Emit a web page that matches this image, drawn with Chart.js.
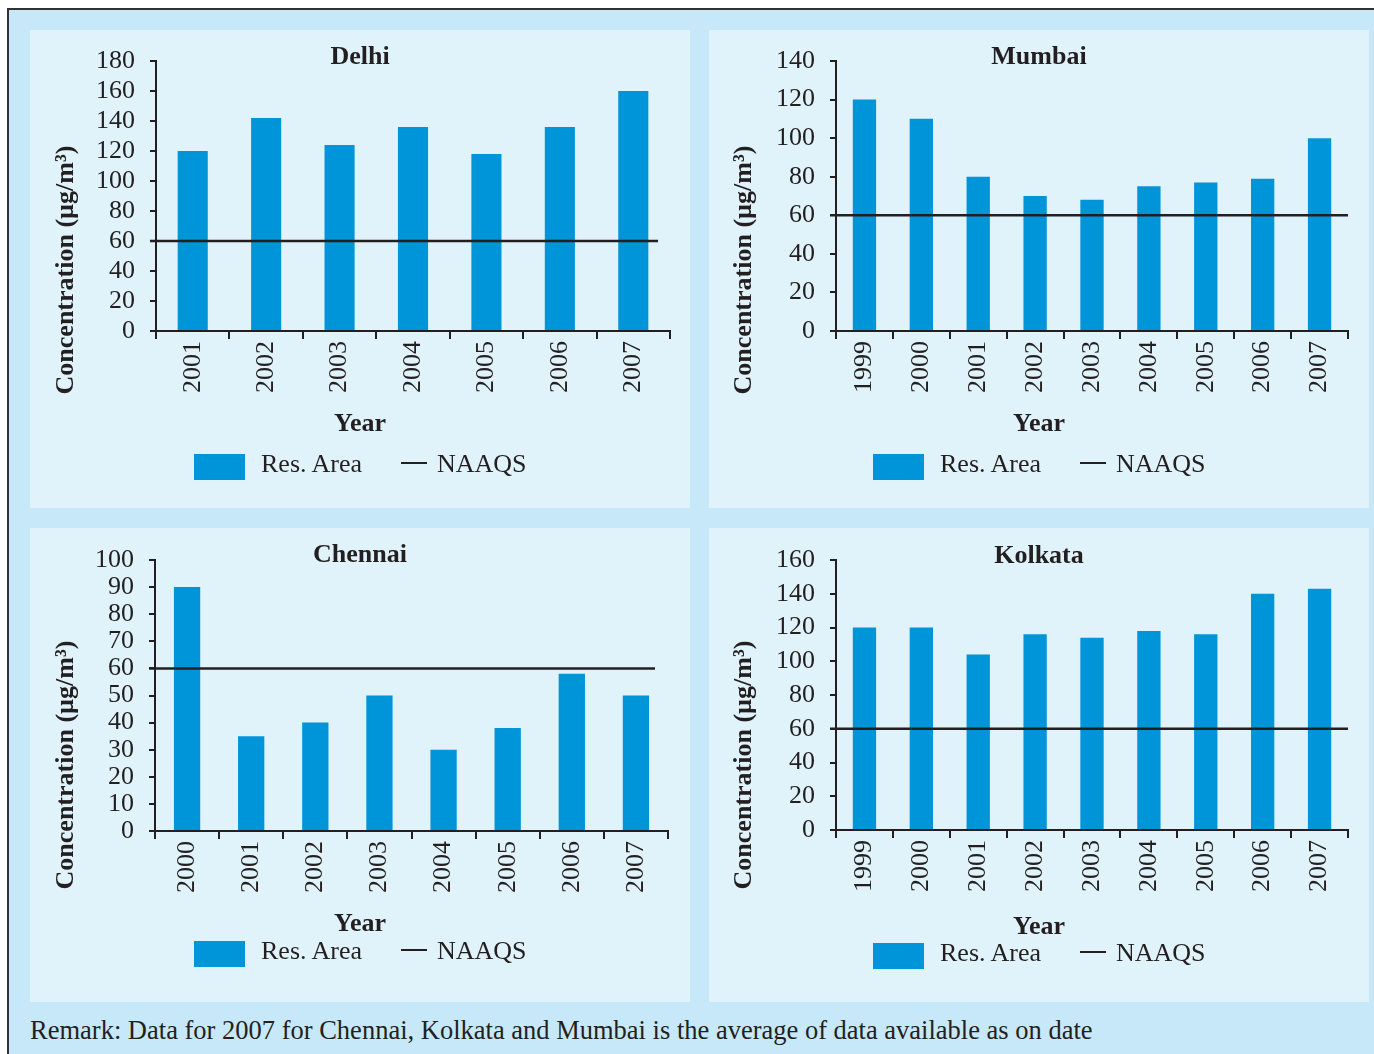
<!DOCTYPE html>
<html>
<head>
<meta charset="utf-8">
<script src="https://cdn.jsdelivr.net/npm/chart.js@4.4.1/dist/chart.umd.min.js"></script>
<style>
  body { margin: 0; background: #fff; font-family: "Liberation Serif", "Times New Roman", serif; color: #231f20; }
  #frame { position: absolute; left: 7px; top: 8px; width: 1380px; height: 1060px; background: #c7e8f8;
           border-top: 2px solid #333; border-left: 2px solid #333; }
  .panel { position: absolute; background: #e0f3fb; }
  .panel canvas { position: absolute; left: 0; top: 0; }
  .ptitle, .xtitle { position: absolute; left: 0; width: 100%; text-align: center; font-weight: bold; font-size: 26px; line-height: 26px; }
  .ytitle { position: absolute; width: 320px; text-align: center; font-weight: bold; font-size: 26px; line-height: 26px;
            white-space: nowrap; transform: translate(-50%, -50%) rotate(-90deg); }
  .legend { position: absolute; left: 0; height: 26px; font-size: 26px; line-height: 26px; white-space: nowrap; }
  .legend .box { position: absolute; left: 0; top: 0; width: 51px; height: 26px; background: #0095d9; }
  .legend .lab1 { position: absolute; left: 67px; top: -3px; }
  .legend .line { position: absolute; left: 207px; top: 8px; width: 26px; height: 2px; background: #231f20; }
  .legend .lab2 { position: absolute; left: 243px; top: -3px; }
  #remark { position: absolute; left: 30px; top: 1015px; font-size: 26.5px; line-height: 30px; white-space: nowrap; }
</style>
</head>
<body>
<div id="frame"></div>
<div id="charts"></div>
<div id="remark">Remark: Data for 2007 for Chennai, Kolkata and Mumbai is the average of data available as on date</div>
<script>
// PM10 in residential areas vs NAAQS limit, four metro cities
const delhiYears = ['2001', '2002', '2003', '2004', '2005', '2006', '2007'];
const delhiValues = [120, 142, 124, 136, 118, 136, 160];
const delhiTicks = [0, 20, 40, 60, 80, 100, 120, 140, 160, 180];

const mumbaiYears = ['1999', '2000', '2001', '2002', '2003', '2004', '2005', '2006', '2007'];
const mumbaiValues = [120, 110, 80, 70, 68, 75, 77, 79, 100];
const mumbaiTicks = [0, 20, 40, 60, 80, 100, 120, 140];

const chennaiYears = ['2000', '2001', '2002', '2003', '2004', '2005', '2006', '2007'];
const chennaiValues = [90, 35, 40, 50, 30, 38, 58, 50];
const chennaiTicks = [0, 10, 20, 30, 40, 50, 60, 70, 80, 90, 100];

const kolkataYears = ['1999', '2000', '2001', '2002', '2003', '2004', '2005', '2006', '2007'];
const kolkataValues = [120, 120, 104, 116, 114, 118, 116, 140, 143];
const kolkataTicks = [0, 20, 40, 60, 80, 100, 120, 140, 160];

const naaqsLimit = 60;

const INK = '#231f20';
const BAR = '#0095d9';
const FONT = '"Liberation Serif", "Times New Roman", serif';

// panel layout (page px) and plot area inside the panel
const panels = [
  { title: 'Delhi', years: delhiYears, values: delhiValues, ticks: delhiTicks,
    x: 30, y: 30, w: 660, h: 478, area: { l: 126, r: 640, t: 31, b: 301 }, lineEnd: 12,
    titleY: 13, xTitleY: 380, yTitle: [35, 240], legendTop: 424 },
  { title: 'Mumbai', years: mumbaiYears, values: mumbaiValues, ticks: mumbaiTicks,
    x: 709, y: 30, w: 660, h: 478, area: { l: 127, r: 639, t: 31, b: 301 }, lineEnd: 0,
    titleY: 13, xTitleY: 380, yTitle: [34, 240], legendTop: 424 },
  { title: 'Chennai', years: chennaiYears, values: chennaiValues, ticks: chennaiTicks,
    x: 30, y: 528, w: 660, h: 474, area: { l: 125, r: 638, t: 32, b: 303 }, lineEnd: 13,
    titleY: 13, xTitleY: 382, yTitle: [35, 237], legendTop: 413 },
  { title: 'Kolkata', years: kolkataYears, values: kolkataValues, ticks: kolkataTicks,
    x: 709, y: 528, w: 660, h: 474, area: { l: 127, r: 639, t: 32, b: 302 }, lineEnd: 0,
    titleY: 14, xTitleY: 385, yTitle: [34, 237], legendTop: 415 }
];

// horizontal NAAQS limit line
const naaqsPlugin = {
  id: 'naaqs',
  afterDatasetsDraw(chart, args, opts) {
    const { ctx, chartArea, scales } = chart;
    const y = scales.y.getPixelForValue(opts.value);
    ctx.save();
    ctx.strokeStyle = INK;
    ctx.lineWidth = 2.5;
    ctx.beginPath();
    ctx.moveTo(chartArea.left - 6, y);
    ctx.lineTo(chartArea.right - opts.endInset, y);
    ctx.stroke();
    ctx.restore();
  }
};

const holder = document.getElementById('charts');

panels.forEach(p => {
  const div = document.createElement('div');
  div.className = 'panel';
  div.style.cssText = `left:${p.x}px;top:${p.y}px;width:${p.w}px;height:${p.h}px;`;
  div.innerHTML = `
    <canvas width="${p.w}" height="${p.h}"></canvas>
    <div class="ptitle" style="top:${p.titleY}px">${p.title}</div>
    <div class="xtitle" style="top:${p.xTitleY}px">Year</div>
    <div class="ytitle" style="left:${p.yTitle[0]}px;top:${p.yTitle[1]}px">Concentration (µg/m³)</div>
    <div class="legend" style="left:164px;top:${p.legendTop}px">
      <div class="box"></div><div class="lab1">Res. Area</div>
      <div class="line"></div><div class="lab2">NAAQS</div>
    </div>`;
  holder.appendChild(div);

  new Chart(div.querySelector('canvas'), {
    type: 'bar',
    data: {
      labels: p.years,
      datasets: [{
        label: 'Res. Area',
        data: p.values,
        backgroundColor: BAR,
        barPercentage: 0.41,
        categoryPercentage: 1
      }]
    },
    options: {
      responsive: false,
      animation: false,
      layout: { padding: { left: 0, top: p.area.t, right: p.w - p.area.r, bottom: 0 } },
      plugins: {
        legend: { display: false },
        tooltip: { enabled: false },
        naaqs: { value: naaqsLimit, endInset: p.lineEnd }
      },
      scales: {
        x: {
          grid: { offset: true, drawOnChartArea: false, tickLength: 8, color: INK, lineWidth: 2 },
          border: { color: INK, width: 2 },
          ticks: { autoSkip: false, minRotation: 90, maxRotation: 90, padding: 2, color: INK, font: { family: FONT, size: 26 } },
          afterFit: s => { s.height = p.h - p.area.b; }
        },
        y: {
          min: 0,
          max: p.ticks[p.ticks.length - 1],
          afterBuildTicks: s => { s.ticks = p.ticks.map(v => ({ value: v })); },
          grid: { drawOnChartArea: false, tickLength: 6, color: INK, lineWidth: 2 },
          border: { color: INK, width: 2 },
          ticks: { autoSkip: false, padding: 15, color: INK, font: { family: FONT, size: 26 } },
          afterFit: s => { s.width = p.area.l; }
        }
      }
    },
    plugins: [naaqsPlugin]
  });
});
</script>
</body>
</html>
